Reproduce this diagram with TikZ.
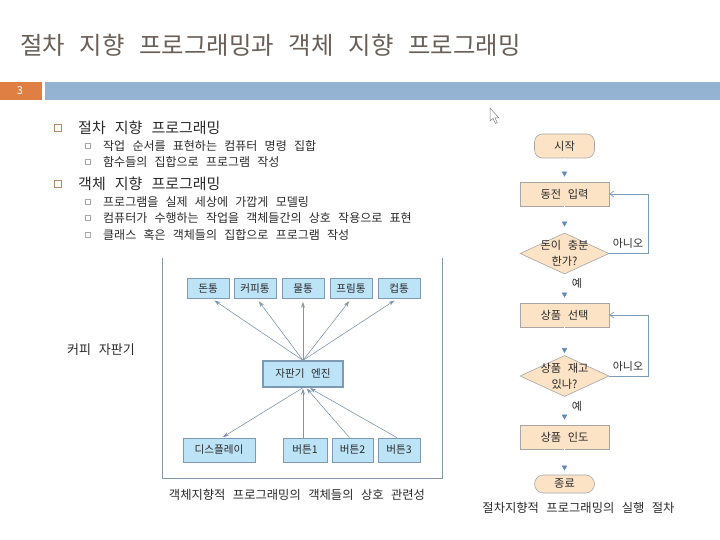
\documentclass[tikz,border=0pt]{standalone}
\usepackage{fontspec}
\setmainfont{Noto Sans CJK KR}[WordSpace=2.7]
\usetikzlibrary{arrows.meta,shapes.geometric,calc}
\definecolor{titlec}{HTML}{6A5F58}
\definecolor{orangec}{HTML}{DF7F43}
\definecolor{barc}{HTML}{94B3D2}
\definecolor{bulc}{HTML}{B8865E}
\definecolor{subbul}{HTML}{A8A8A8}
\definecolor{txt}{HTML}{2A2A2A}
\definecolor{objfill}{HTML}{BDE3F7}
\definecolor{objedge}{HTML}{7E9AB3}
\definecolor{objarr}{HTML}{7F95AD}
\definecolor{framec}{HTML}{8497AA}
\definecolor{ffill}{HTML}{FCE3C6}
\definecolor{fedge}{HTML}{A6A6A6}
\definecolor{farr}{HTML}{5E87BF}
\definecolor{floop}{HTML}{7C9BBB}
\newcommand\fsz[2]{\fontsize{#1}{#2}\selectfont}
\tikzset{
  ttl/.style={anchor=west, inner sep=0, text=titlec, font=\fsz{24.4}{28}},
  lvone/.style={anchor=west, inner sep=0, text=txt, font=\fsz{15}{17}},
  lvtwo/.style={anchor=west, inner sep=0, text=txt, font=\fsz{12}{14}},
  bulone/.style={draw=bulc, line width=0.8pt, minimum size=6.5pt, inner sep=0},
  bultwo/.style={draw=subbul, line width=0.6pt, minimum size=5.5pt, inner sep=0},
  obox/.style={draw=objedge, fill=objfill, line width=0.7pt, minimum height=20pt, inner sep=0, text=txt, font=\fsz{10.6}{12}},
  oarr/.style={draw=objarr, line width=0.6pt, -{Stealth[length=6pt,width=4pt]}},
  fbox/.style={draw=fedge, fill=ffill, line width=0.6pt, minimum width=89pt, minimum height=24pt, inner sep=0, text=txt, font=\fsz{11.2}{13}},
  pill/.style={fbox, rounded corners=8pt, minimum width=60pt},
  dia/.style={diamond, draw=fedge, fill=ffill, line width=0.6pt, minimum width=89pt, minimum height=41pt, inner sep=0},
  diatext/.style={text=txt, font=\fsz{11.2}{16}, align=center, inner sep=0},
  farrow/.style={draw=white, line width=0.5pt, -{Triangle[length=5pt,width=5pt,color=farr]}},
  floopst/.style={draw=floop, line width=0.7pt, -{Straight Barb[length=4pt,width=6pt]}},
  flab/.style={text=txt, font=\fsz{11}{13}, inner sep=0},
  captext/.style={text=txt, font=\fsz{12.3}{14}, inner sep=0}
}
\begin{document}
\begin{tikzpicture}[x=1pt,y=-1pt]
\useasboundingbox (0,0) rectangle (720,540);
% title and bars
\node[ttl] (title) at (20,45) {절차 지향 프로그래밍과 객체 지향 프로그래밍};
\fill[orangec] (0,82) rectangle (42,100);
\fill[barc] (45,82) rectangle (720,100);
\node[text=white, font=\fsz{11}{12}, inner sep=0] (pg) at (20,91) {3};
% bullets
\node[bulone] (b1) at (58,128) {};
\node[lvone] (t1) at (78,128) {절차 지향 프로그래밍};
\node[bultwo] (b11) at (88,146) {};
\node[lvtwo] (t11) at (103,146) {작업 순서를 표현하는 컴퓨터 명령 집합};
\node[bultwo] (b12) at (88,162) {};
\node[lvtwo] (t12) at (103,162) {함수들의 집합으로 프로그램 작성};
\node[bulone] (b2) at (58,184) {};
\node[lvone] (t2) at (78,184) {객체 지향 프로그래밍};
\node[bultwo] (b21) at (88,202) {};
\node[lvtwo] (t21) at (103,202) {프로그램을 실제 세상에 가깝게 모델링};
\node[bultwo] (b22) at (88,218) {};
\node[lvtwo] (t22) at (103,218) {컴퓨터가 수행하는 작업을 객체들간의 상호 작용으로 표현};
\node[bultwo] (b23) at (88,235) {};
\node[lvtwo] (t23) at (103,235) {클래스 혹은 객체들의 집합으로 프로그램 작성};
% object diagram frame
\draw[framec, line width=0.8pt] (162,258) -- (162,478) -- (442,478) -- (442,258);
\node[obox, minimum width=42pt] (don) at (208,288.5) {돈통};
\node[obox, minimum width=42pt] (coffee) at (255,288.5) {커피통};
\node[obox, minimum width=42pt] (water) at (303,288.5) {물통};
\node[obox, minimum width=42pt] (prim) at (351,288.5) {프림통};
\node[obox, minimum width=42pt] (cup) at (399,288.5) {컵통};
\node[obox, minimum width=80pt, minimum height=26pt, line width=1.3pt] (eng) at (303,374) {자판기 엔진};
\node[obox, minimum width=72pt, minimum height=24pt] (disp) at (219,450) {디스플레이};
\node[obox, minimum width=44pt, minimum height=24pt] (btn1) at (305,450) {버튼1};
\node[obox, minimum width=41pt, minimum height=24pt] (btn2) at (352.5,450) {버튼2};
\node[obox, minimum width=42pt, minimum height=24pt] (btn3) at (399,450) {버튼3};
\draw[oarr, shorten >=3pt] (eng.north) -- ($(don.south)+(4,0)$);
\draw[oarr, shorten >=3pt] (eng.north) -- ($(coffee.south)+(2,0)$);
\draw[oarr, shorten >=3pt] (eng.north) -- (water.south);
\draw[oarr, shorten >=3pt] (eng.north) -- ($(prim.south)+(0,0)$);
\draw[oarr, shorten >=3pt] (eng.north) -- ($(cup.south)+(-2,0)$);
\draw[oarr, shorten >=1pt] (eng.south) -- ($(disp.north)+(3,0)$);
\draw[oarr, shorten >=1pt] ($(btn1.north)+(-2,0)$) -- (eng.south);
\draw[oarr, shorten >=1pt] ($(btn2.north)+(-3,0)$) -- ($(eng.south)+(3,0)$);
\draw[oarr, shorten >=1pt] ($(btn3.north)+(-2,0)$) -- ($(eng.south)+(6,0)$);
\node[anchor=west, text=txt, font=\fsz{13}{15}, inner sep=0] (vend) at (67,350) {커피 자판기};
\node[captext] (cap1) at (297,495) {객체지향적 프로그래밍의 객체들의 상호 관련성};
% cursor
\draw[gray, line width=0.5pt, fill=white] (490,108) -- (490,121) -- (493,118.5) -- (495.5,123.5) -- (497.3,122.6) -- (495,117.8) -- (498.8,117.8) -- cycle;
% flowchart
\node[pill] (start) at (564.5,146) {시작};
\node[fbox] (input) at (564.5,194) {동전 입력};
\node[dia, label={[diatext]center:돈이 충분\\한가?}] (d1) at (564.5,253.5) {};
\node[fbox] (select) at (564.5,315) {상품 선택};
\node[dia, label={[diatext]center:상품 재고\\있나?}] (d2) at (564.5,376) {};
\node[fbox] (deliver) at (564.5,437) {상품 인도};
\node[pill, minimum height=18pt, rounded corners=9pt] (end) at (564.5,484) {종료};
\draw[farrow, shorten >=5pt] (start) -- (input);
\draw[farrow, shorten >=6pt] (input) -- (d1);
\draw[farrow, shorten >=5pt] (d1) -- (select);
\draw[farrow, shorten >=2pt] (select) -- (d2);
\draw[farrow, shorten >=5pt] (d2) -- (deliver);
\draw[farrow, shorten >=4pt] (deliver) -- (end);
\coordinate (l1) at (648,253.5);
\coordinate (l2) at (648,376);
\draw[floopst] (d1.east) -- (l1) |- (input.east);
\draw[floopst] (d2.east) -- (l2) |- (select.east);
\node[flab] (no1) at (628,243) {아니오};
\node[flab] (yes1) at (577,283) {예};
\node[flab] (no2) at (628,366) {아니오};
\node[flab] (yes2) at (577,406) {예};
\node[captext] (cap2) at (578.5,508) {절차지향적 프로그래밍의 실행 절차};
\end{tikzpicture}
\end{document}
